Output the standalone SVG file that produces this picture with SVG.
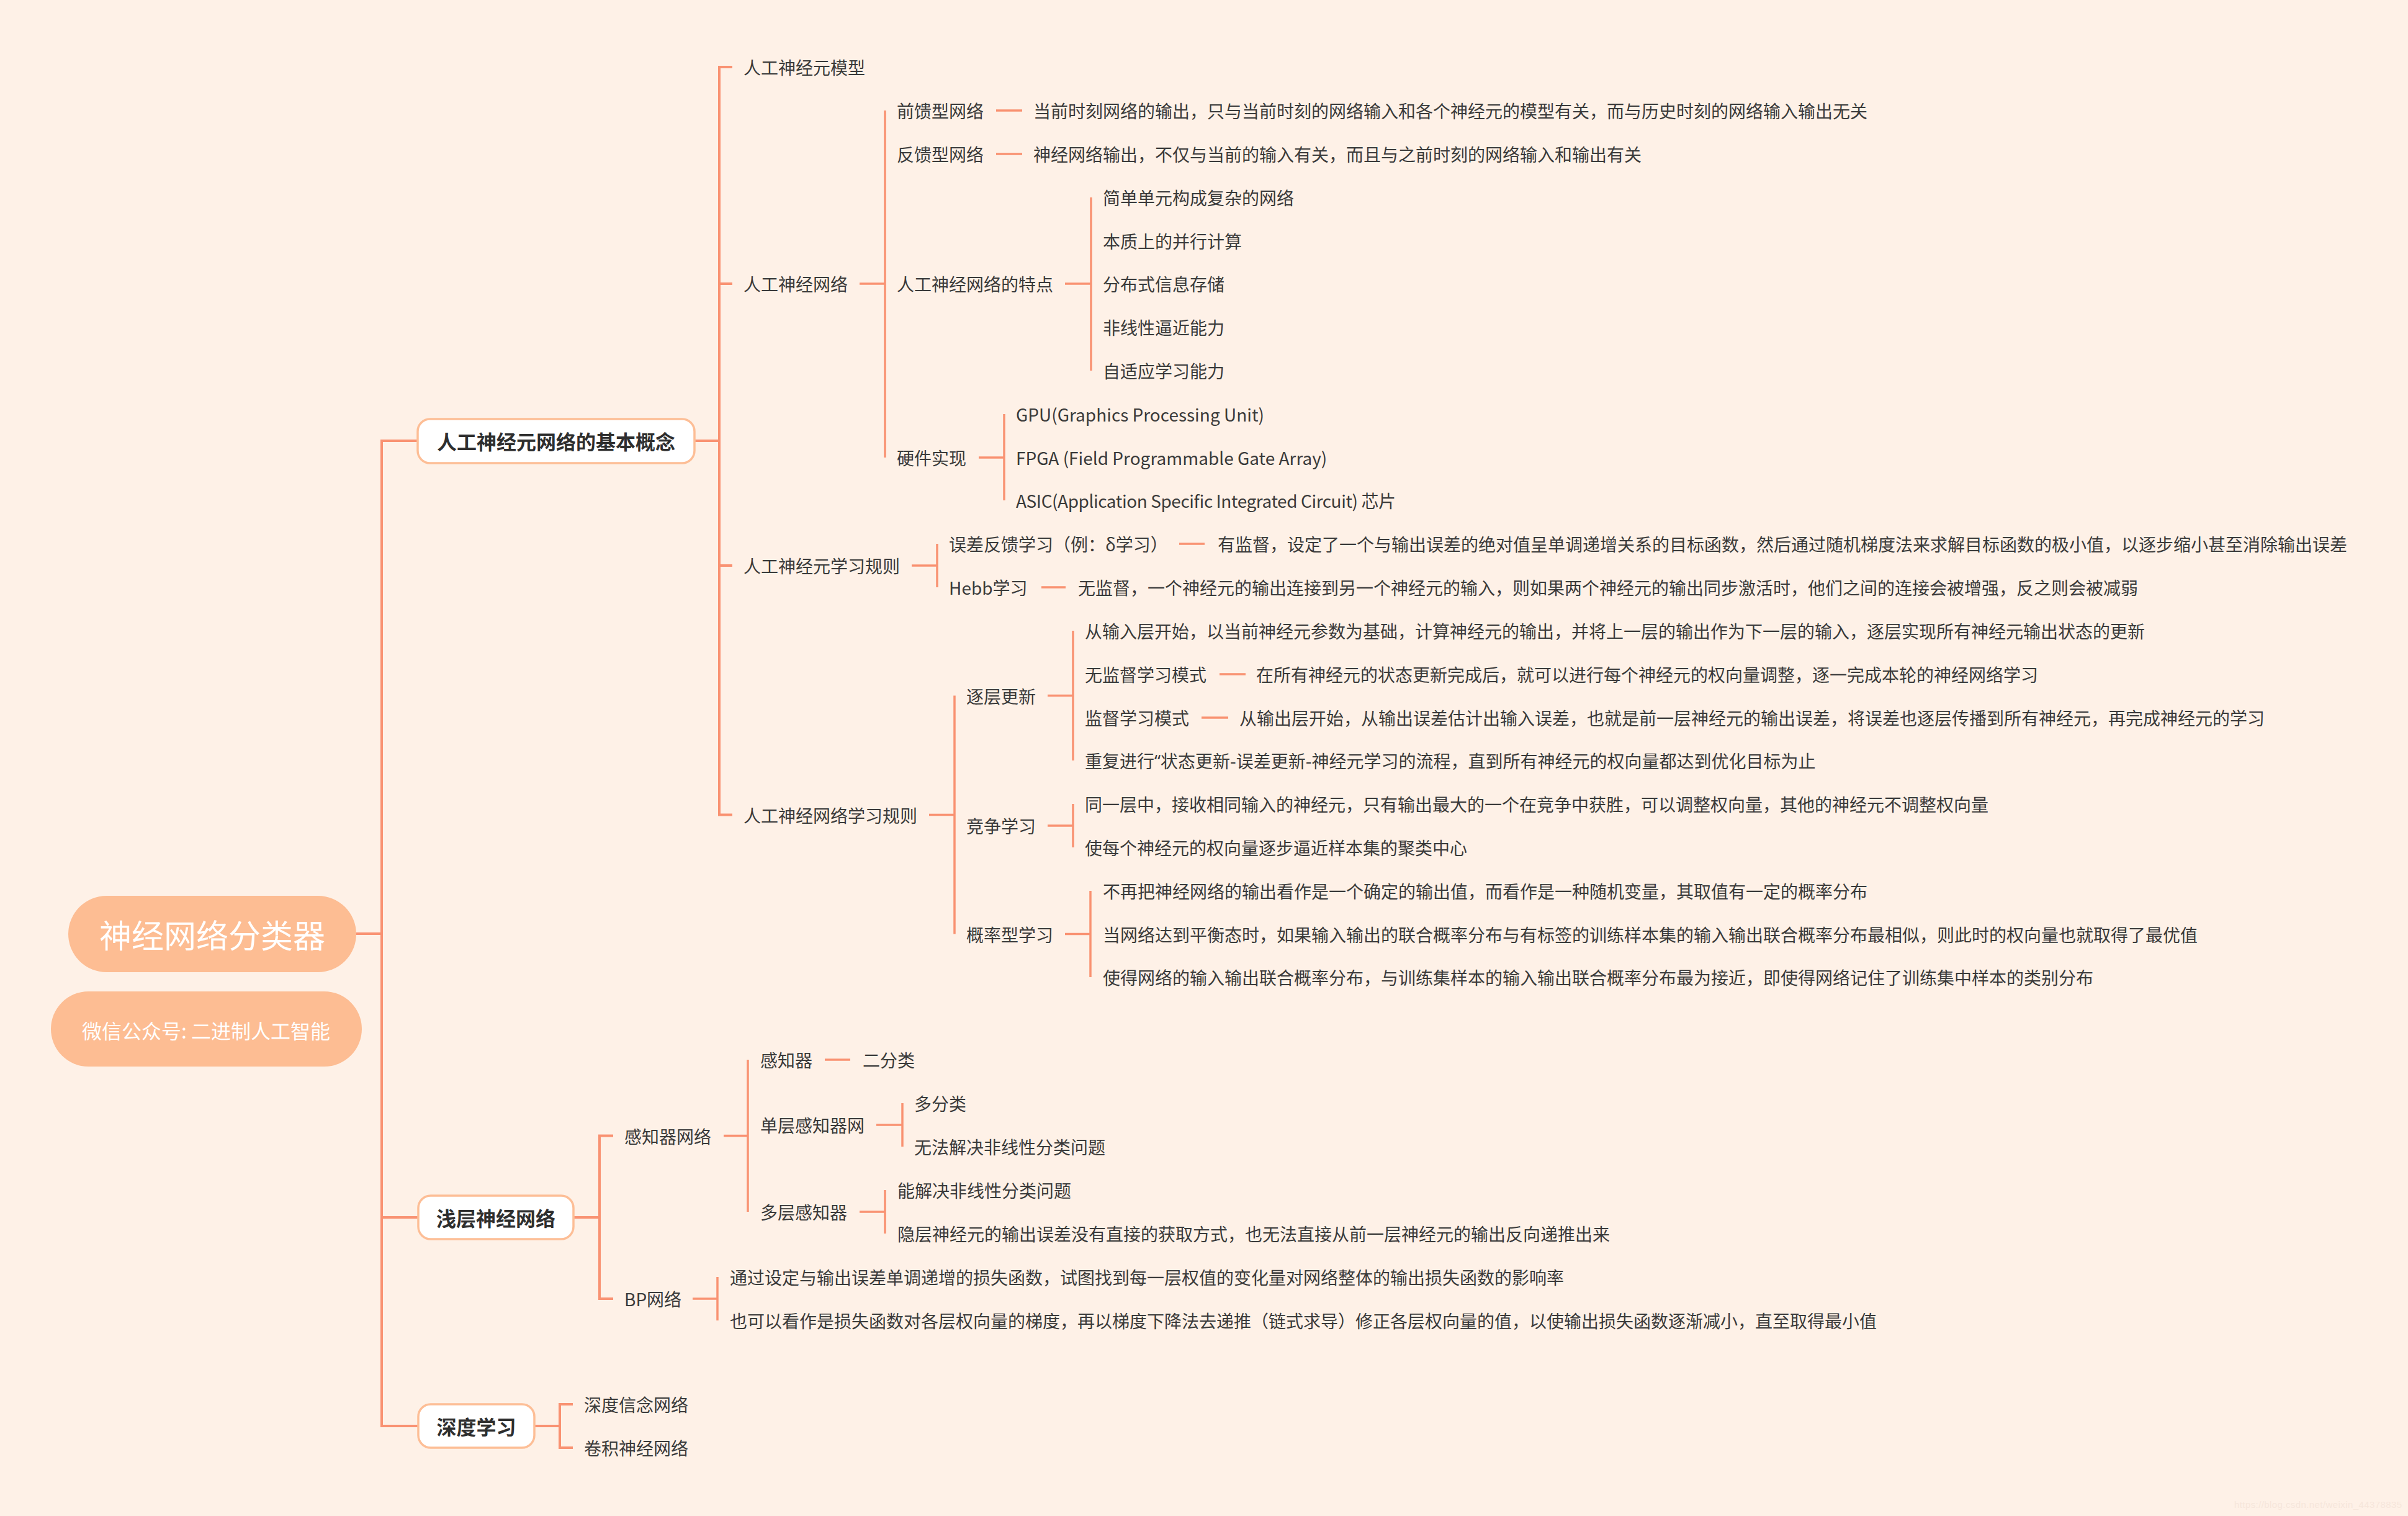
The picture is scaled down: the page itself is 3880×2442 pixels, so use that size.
<svg xmlns="http://www.w3.org/2000/svg" width="3880" height="2442" viewBox="0 0 3880 2442">
<style>
.t{font-family:"Noto Sans CJK SC","Noto Sans",sans-serif;font-size:28px;fill:#3a3a3a;dominant-baseline:central}
.b{font-family:"Noto Sans CJK SC","Noto Sans",sans-serif;font-size:32px;font-weight:700;fill:#2e2e2e;dominant-baseline:central;text-anchor:middle}
.r{font-family:"Noto Sans CJK SC","Noto Sans",sans-serif;fill:#ffffff;dominant-baseline:central;text-anchor:middle}
.c{stroke:#F99272;stroke-width:4;fill:none;stroke-linecap:butt}
.d{stroke:#F99272;stroke-width:3.5;fill:none}
.box{fill:#ffffff;stroke:#FDBE96;stroke-width:3.5}
.rootbox{fill:#FDBD93}
</style>
<rect x="0" y="0" width="3880" height="2442" fill="#FEF1E7"/>

<g id="connectors">
  <path class="c" d="M574 1504 H615 M673 710 H615 V2297 H673 M615 1961 H673"/>
  <path class="c" d="M1119 710 H1159 M1180 108 H1159 V1312.5 H1180 M1159 457 H1180 M1159 911 H1180"/>
  <path class="d" d="M1385 457 H1426 M1426 178 V737"/>
  <path class="d" d="M1605 178 H1647 M1605 248 H1647"/>
  <path class="d" d="M1716 457 H1758 M1758 318 V597"/>
  <path class="d" d="M1577 737 H1618 M1618 667 V806"/>
  <path class="d" d="M1469 911 H1510 M1510 876 V946"/>
  <path class="d" d="M1900 876 H1941 M1678 946 H1717"/>
  <path class="d" d="M1497 1312.5 H1538 M1538 1120.5 V1504.5"/>
  <path class="d" d="M1688 1120.5 H1729 M1729 1016 V1225"/>
  <path class="d" d="M1965 1086 H2007 M1936 1156 H1979"/>
  <path class="d" d="M1688 1330 H1729 M1729 1295 V1365"/>
  <path class="d" d="M1716 1504.5 H1757 M1757 1435 V1574"/>
  <path class="c" d="M924 1961 H966 M988 1829.5 H966 V2092 H988"/>
  <path class="d" d="M1166 1829.5 H1205 M1205 1707 V1952"/>
  <path class="d" d="M1329 1707 H1370"/>
  <path class="d" d="M1412 1812 H1454 M1454 1777 V1847"/>
  <path class="d" d="M1385 1952 H1426 M1426 1917 V1987"/>
  <path class="d" d="M1116 2092 H1156 M1156 2057 V2127"/>
  <path class="c" d="M861 2297 H902 M923 2262 H902 V2332 H923"/>
</g>

<g id="root">
  <rect class="rootbox" x="110" y="1443" width="464" height="123" rx="61.5"/>
  <text class="r" x="342" y="1504" font-size="52">神经网络分类器</text>
</g>
<g id="wechat">
  <rect class="rootbox" x="82" y="1597" width="501" height="121" rx="60.5"/>
  <text class="r" x="332" y="1659" font-size="32">微信公众号: 二进制人工智能</text>
</g>

<g id="n-basic">
  <rect class="box" x="673" y="675" width="446" height="71" rx="20"/>
  <text class="b" x="896" y="710">人工神经元网络的基本概念</text>
</g>
<g id="n-model"><text class="t" x="1198" y="108">人工神经元模型</text></g>
<g id="n-ann">
  <text class="t" x="1198" y="457">人工神经网络</text>
  <text class="t" x="1445" y="178">前馈型网络</text>
  <text class="t" x="1665" y="178">当前时刻网络的输出，只与当前时刻的网络输入和各个神经元的模型有关，而与历史时刻的网络输入输出无关</text>
  <text class="t" x="1445" y="248">反馈型网络</text>
  <text class="t" x="1665" y="248">神经网络输出，不仅与当前的输入有关，而且与之前时刻的网络输入和输出有关</text>
  <text class="t" x="1445" y="457">人工神经网络的特点</text>
  <text class="t" x="1777" y="318">简单单元构成复杂的网络</text>
  <text class="t" x="1777" y="388">本质上的并行计算</text>
  <text class="t" x="1777" y="457">分布式信息存储</text>
  <text class="t" x="1777" y="527">非线性逼近能力</text>
  <text class="t" x="1777" y="597">自适应学习能力</text>
  <text class="t" x="1445" y="737">硬件实现</text>
  <text class="t" x="1637" y="667">GPU(Graphics Processing Unit)</text>
  <text class="t" x="1637" y="737">FPGA (Field Programmable Gate Array)</text>
  <text class="t" x="1637" y="806" textLength="612" lengthAdjust="spacing">ASIC(Application Specific Integrated Circuit) 芯片</text>
</g>
<g id="n-rule">
  <text class="t" x="1198" y="911">人工神经元学习规则</text>
  <text class="t" x="1529" y="876">误差反馈学习（例：δ学习）</text>
  <text class="t" x="1962" y="876">有监督，设定了一个与输出误差的绝对值呈单调递增关系的目标函数，然后通过随机梯度法来求解目标函数的极小值，以逐步缩小甚至消除输出误差</text>
  <text class="t" x="1529" y="946">Hebb学习</text>
  <text class="t" x="1737" y="946">无监督，一个神经元的输出连接到另一个神经元的输入，则如果两个神经元的输出同步激活时，他们之间的连接会被增强，反之则会被减弱</text>
</g>
<g id="n-netrule">
  <text class="t" x="1198" y="1312.5">人工神经网络学习规则</text>
  <text class="t" x="1557" y="1120.5">逐层更新</text>
  <text class="t" x="1748" y="1016">从输入层开始，以当前神经元参数为基础，计算神经元的输出，并将上一层的输出作为下一层的输入，逐层实现所有神经元输出状态的更新</text>
  <text class="t" x="1748" y="1086">无监督学习模式</text>
  <text class="t" x="2024" y="1086">在所有神经元的状态更新完成后，就可以进行每个神经元的权向量调整，逐一完成本轮的神经网络学习</text>
  <text class="t" x="1748" y="1156">监督学习模式</text>
  <text class="t" x="1997" y="1156">从输出层开始，从输出误差估计出输入误差，也就是前一层神经元的输出误差，将误差也逐层传播到所有神经元，再完成神经元的学习</text>
  <text class="t" x="1748" y="1225">重复进行<tspan font-family="Noto Sans, sans-serif">“</tspan>状态更新-误差更新-神经元学习的流程，直到所有神经元的权向量都达到优化目标为止</text>
  <text class="t" x="1557" y="1330">竞争学习</text>
  <text class="t" x="1748" y="1295">同一层中，接收相同输入的神经元，只有输出最大的一个在竞争中获胜，可以调整权向量，其他的神经元不调整权向量</text>
  <text class="t" x="1748" y="1365">使每个神经元的权向量逐步逼近样本集的聚类中心</text>
  <text class="t" x="1557" y="1504.5">概率型学习</text>
  <text class="t" x="1777" y="1435">不再把神经网络的输出看作是一个确定的输出值，而看作是一种随机变量，其取值有一定的概率分布</text>
  <text class="t" x="1777" y="1504.5">当网络达到平衡态时，如果输入输出的联合概率分布与有标签的训练样本集的输入输出联合概率分布最相似，则此时的权向量也就取得了最优值</text>
  <text class="t" x="1777" y="1574">使得网络的输入输出联合概率分布，与训练集样本的输入输出联合概率分布最为接近，即使得网络记住了训练集中样本的类别分布</text>
</g>

<g id="n-shallow">
  <rect class="box" x="674" y="1926" width="250" height="70" rx="20"/>
  <text class="b" x="799" y="1961">浅层神经网络</text>
</g>
<g id="n-perceptron">
  <text class="t" x="1006" y="1829.5">感知器网络</text>
  <text class="t" x="1225" y="1707">感知器</text>
  <text class="t" x="1390" y="1707">二分类</text>
  <text class="t" x="1225" y="1812">单层感知器网</text>
  <text class="t" x="1473" y="1777">多分类</text>
  <text class="t" x="1473" y="1847">无法解决非线性分类问题</text>
  <text class="t" x="1225" y="1952">多层感知器</text>
  <text class="t" x="1446" y="1917">能解决非线性分类问题</text>
  <text class="t" x="1446" y="1987">隐层神经元的输出误差没有直接的获取方式，也无法直接从前一层神经元的输出反向递推出来</text>
</g>
<g id="n-bp">
  <text class="t" x="1006" y="2092">BP网络</text>
  <text class="t" x="1176" y="2057">通过设定与输出误差单调递增的损失函数，试图找到每一层权值的变化量对网络整体的输出损失函数的影响率</text>
  <text class="t" x="1176" y="2127">也可以看作是损失函数对各层权向量的梯度，再以梯度下降法去递推（链式求导）修正各层权向量的值，以使输出损失函数逐渐减小，直至取得最小值</text>
</g>

<g id="n-deep">
  <rect class="box" x="674" y="2262" width="187" height="70" rx="20"/>
  <text class="b" x="767.5" y="2297">深度学习</text>
  <text class="t" x="941" y="2262">深度信念网络</text>
  <text class="t" x="941" y="2332">卷积神经网络</text>
</g>

<text x="3600" y="2423" font-family="Liberation Sans, Arial, sans-serif" font-size="15" fill="#F6E6DB" dominant-baseline="central" textLength="270">https://blog.csdn.net/weixin_44378835</text>
</svg>
